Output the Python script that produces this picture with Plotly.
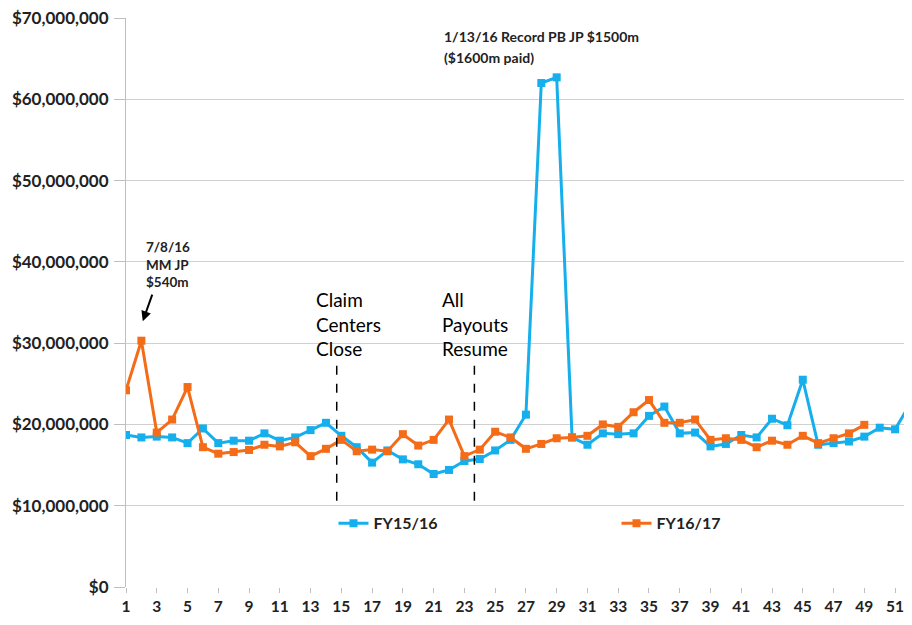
import plotly.graph_objects as go

weeks_fy1516 = list(range(1, 53))
fy1516 = [18.7, 18.4, 18.5, 18.4, 17.7, 19.5, 17.7, 18.0, 18.0, 18.9,
          18.0, 18.4, 19.3, 20.2, 18.6, 17.2, 15.3, 16.8, 15.7, 15.1,
          13.9, 14.4, 15.5, 15.75, 16.8, 18.1, 21.2, 62.0, 62.7, 18.4,
          17.5, 18.9, 18.8, 18.9, 21.05, 22.2, 18.9, 19.0, 17.3, 17.6,
          18.7, 18.4, 20.7, 19.9, 25.5, 17.5, 17.7, 17.9, 18.5, 19.6,
          19.4, 22.6]
weeks_fy1617 = list(range(1, 50))
fy1617 = [24.2, 30.3, 19.0, 20.6, 24.6, 17.2, 16.4, 16.6, 16.85, 17.5,
          17.3, 17.8, 16.1, 17.0, 18.1, 16.7, 16.9, 16.7, 18.8, 17.4,
          18.1, 20.6, 16.1, 16.9, 19.1, 18.4, 17.0, 17.6, 18.3, 18.4,
          18.6, 20.0, 19.7, 21.5, 23.0, 20.2, 20.2, 20.6, 18.1, 18.3,
          18.1, 17.2, 18.0, 17.5, 18.6, 17.7, 18.3, 18.9, 19.95]

y_ticks = [0, 10e6, 20e6, 30e6, 40e6, 50e6, 60e6, 70e6]
y_labels = ["$0", "$10,000,000", "$20,000,000", "$30,000,000", "$40,000,000",
            "$50,000,000", "$60,000,000", "$70,000,000"]
x_ticks = list(range(1, 53, 2))

events = [("Claim<br>Centers<br>Close", 14.7, -23), ("All<br>Payouts<br>Resume", 23.65, -34)]

BLUE = "#14AFEC"
ORANGE = "#F46B18"
FONT = "Lato"

fig = go.Figure()
fig.add_trace(go.Scatter(
    x=weeks_fy1516, y=[v * 1e6 for v in fy1516], name="FY15/16",
    mode="lines+markers", line=dict(color=BLUE, width=3),
    marker=dict(symbol="square", size=8, color=BLUE)))
fig.add_trace(go.Scatter(
    x=weeks_fy1617, y=[v * 1e6 for v in fy1617], name="FY16/17",
    mode="lines+markers", line=dict(color=ORANGE, width=3),
    marker=dict(symbol="square", size=8, color=ORANGE)))

for label, xv, shift in events:
    fig.add_shape(type="line", x0=xv, x1=xv, y0=10.6e6, y1=27.9e6,
                  line=dict(color="black", width=1.5, dash="dash"))
    fig.add_annotation(x=xv, y=37.0e6, text=label, showarrow=False,
                       xanchor="left", yanchor="top", xshift=shift, align="left",
                       font=dict(family=FONT, size=19, color="black"))

fig.add_annotation(x=28, y=69.0e6, text="<b>1/13/16 Record PB JP $1500m</b>",
                   showarrow=False, xanchor="left", yanchor="top", xshift=-99, align="left",
                   font=dict(family=FONT, size=14, color="#222"))
fig.add_annotation(x=28, y=66.4e6, text="<b>($1600m paid)</b>",
                   showarrow=False, xanchor="left", yanchor="top", xshift=-99, align="left",
                   font=dict(family=FONT, size=14, color="#222"))
fig.add_annotation(x=2, y=43.1e6, text="<b>7/8/16<br>MM JP<br>$540m</b>",
                   showarrow=False, xanchor="left", yanchor="top", xshift=3, align="left",
                   font=dict(family=FONT, size=13.5, color="#222"))
fig.add_annotation(x=2.09, y=32.7e6, text="", showarrow=True, arrowhead=2,
                   arrowsize=1, arrowwidth=2, arrowcolor="black", ax=10, ay=-28)

fig.update_layout(
    width=896, height=609,
    margin=dict(l=118, r=0, t=10, b=30),
    paper_bgcolor="white", plot_bgcolor="white",
    font=dict(family=FONT, color="black"),
    showlegend=True,
    legend=dict(orientation="h", x=0.2667, y=0.112, xanchor="left", yanchor="middle",
                entrywidth=238, entrywidthmode="pixels",
                font=dict(family=FONT, size=16, color="#222", weight="bold"),
                bgcolor="rgba(0,0,0,0)"),
    xaxis=dict(range=[1, 51.58], tickvals=x_ticks, ticktext=[str(t) for t in x_ticks],
               showgrid=False, zeroline=False, showline=False, automargin=False,
               ticks="outside", ticklen=5, tickcolor="#bfbfbf", ticklabeloverflow="allow",
               tickfont=dict(family=FONT, size=15.5, color="#222", weight="bold")),
    yaxis=dict(range=[0, 70e6], tickvals=y_ticks, ticktext=y_labels,
               showgrid=True, gridcolor="#d0d0d0", gridwidth=1, automargin=False,
               zeroline=False, showline=True, linecolor="#bfbfbf", linewidth=1,
               ticks="outside", ticklen=11, tickcolor="#bfbfbf", ticklabelstandoff=2,
               ticklabeloverflow="allow",
               tickfont=dict(family=FONT, size=17, color="#222", weight="bold")),
)

fig.write_html("out.html")
